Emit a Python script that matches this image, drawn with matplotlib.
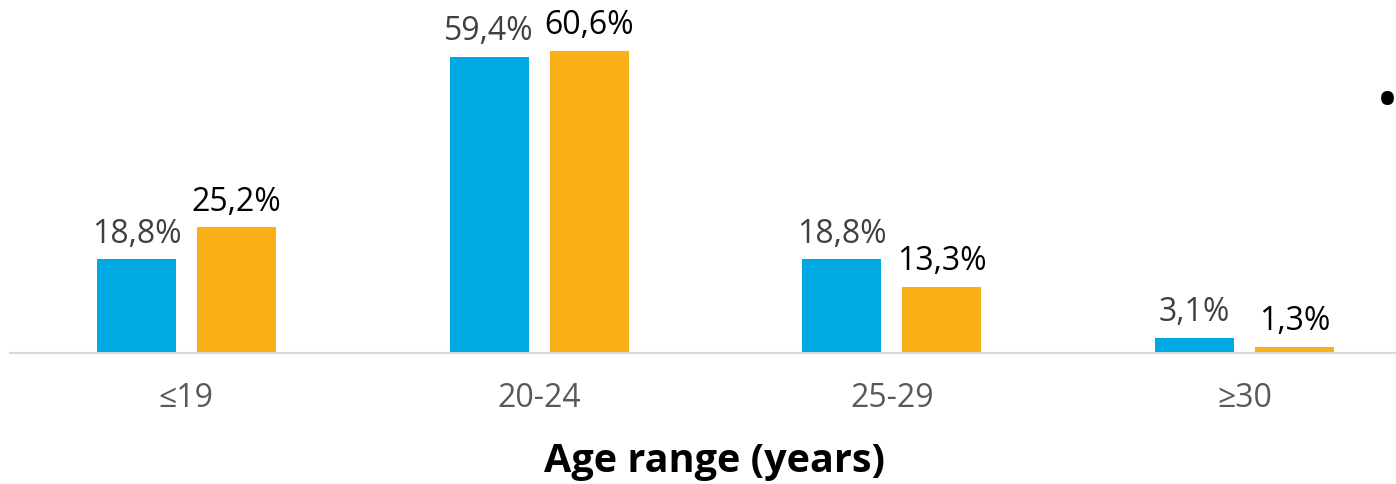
import matplotlib
matplotlib.use("Agg")
import matplotlib.pyplot as plt
import numpy as np

categories = ["≤19", "20-24", "25-29", "≥30"]
series_a = [18.8, 59.4, 18.8, 3.1]
series_b = [25.2, 60.6, 13.3, 1.3]
xlabel = "Age range (years)"

plt.rcParams['font.family'] = ['Open Sans', 'DejaVu Sans']

W, H = 1396, 485
fig = plt.figure(figsize=(W/100, H/100), dpi=100)
ax = fig.add_axes([10/W, 131/H, 1411/W, 354/H])

x = np.arange(len(categories))
bw = 79/353
off = 50/353
ax.bar(x - off, series_a, bw, color="#00A9E3")
ax.bar(x + off, series_b, bw, color="#FBAF17")

for xi, v in zip(x, series_a):
    ax.annotate(f"{v:.1f}%".replace(".", ","), (xi - off, v), xytext=(0, 7),
                textcoords="offset points", ha="center", va="bottom",
                fontsize=23, color="#404040")
for xi, v in zip(x, series_b):
    ax.annotate(f"{v:.1f}%".replace(".", ","), (xi + off, v), xytext=(0, 7),
                textcoords="offset points", ha="center", va="bottom",
                fontsize=23, color="black")

ax.set_xlim(-0.5, 3.5)
ax.set_ylim(0, 71.04)
ax.set_xticks(x)
ax.set_xticklabels(categories, fontsize=23, color="#595959")
ax.tick_params(axis="x", length=0, pad=20)
ax.set_yticks([])
for s in ["top", "right", "left"]:
    ax.spines[s].set_visible(False)
ax.spines["bottom"].set_color("#D9D9D9")
ax.spines["bottom"].set_linewidth(1.5)

fig.text(714/W, 1 - 462/H, xlabel, ha="center", va="center",
         fontsize=28.5, fontweight="bold", color="black")
fig.text(1387/W, 1 - 104/H, "•", ha="center", va="center", fontsize=44, color="black")

fig.savefig("out.png", dpi=100)
